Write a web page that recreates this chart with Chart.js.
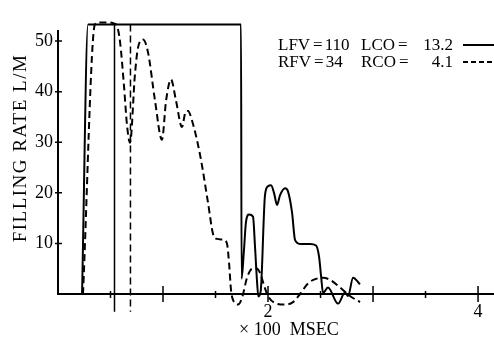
<!DOCTYPE html>
<html>
<head>
<meta charset="utf-8">
<script src="https://cdn.jsdelivr.net/npm/chart.js@4.4.0/dist/chart.umd.min.js"></script>
<style>
  body { margin: 0; background: #fff; }
</style>
</head>
<body>
<canvas id="fillChart" width="494" height="338"></canvas>
<script>
// left ventricle (solid) — x in 100 msec, y in L/M
const lvTime = [0.229, 0.286, 1.743, 1.748, 1.770, 1.790, 1.819, 1.857, 1.876, 1.895, 1.908, 1.930, 1.971, 2.0, 2.029, 2.057, 2.086, 2.114, 2.162, 2.19, 2.229, 2.257, 2.305, 2.4, 2.457, 2.486, 2.505, 2.524, 2.571, 2.667, 2.733, 2.762, 2.81, 2.876];
const lvRate = [0, 53.3, 53.3, 3.0, 8.4, 14.2, 15.7, 15.3, 9.4, 2.6, -0.5, 0.5, 19.5, 21.3, 21.5, 20.0, 17.6, 19.5, 20.9, 20.3, 16.1, 10.7, 9.9, 9.9, 9.6, 7.4, 3.6, 0.2, 1.3, -1.9, 0.3, -0.4, 3.2, 1.9];

// right ventricle (dashed)
const rvTime = [0.238, 0.352, 0.4, 0.457, 0.543, 0.562, 0.59, 0.629, 0.657, 0.686, 0.733, 0.762, 0.81, 0.857, 0.924, 0.99, 1.029, 1.076, 1.124, 1.181, 1.21, 1.238, 1.276, 1.352, 1.429, 1.476, 1.514, 1.581, 1.61, 1.629, 1.648, 1.676, 1.714, 1.752, 1.8, 1.848, 1.886, 1.924, 1.962, 2.0, 2.067, 2.162, 2.238, 2.305, 2.381, 2.457, 2.524, 2.59, 2.686, 2.781, 2.876];
const rvRate = [0, 53.3, 53.7, 53.7, 53.4, 53.0, 50.0, 41.0, 33.4, 29.9, 43.5, 48.7, 50.3, 47.8, 38.2, 30.5, 38.2, 42.4, 38.2, 33.0, 35.7, 36.2, 34.3, 27.6, 18.0, 11.9, 10.9, 10.7, 9.9, 6.1, 0.7, -1.6, -2.1, -0.8, 3.2, 5.0, 5.1, 4.2, 1.7, -0.4, -1.8, -2.1, -1.6, 0, 2.1, 3.0, 3.2, 2.8, 1.3, -0.4, -1.6];

// vertical timing markers
const lvMarkTime = [0.538, 0.538];
const rvMarkTime = [0.69, 0.69];
const markRate = [53.3, -3.5];

const yTickValues = [10, 20, 30, 40, 50];
const xTickValues = [0.5, 1, 1.5, 2, 2.5, 3, 3.5, 4];
const xTickLabels = [2, 4];
const yAxisTop = 52.2;

const legendRows = [
  ['LFV', '110', 'LCO', '13.2'],
  ['RFV', '34', 'RCO', '4.1']
];

const serif = '"Liberation Serif", "Times New Roman", serif';

const toPoints = (xs, ys) => xs.map((x, i) => ({ x: x, y: ys[i] }));

// axes cross their ticks and stop short, so draw them by hand from the scales
const axisPlugin = {
  id: 'axisCross',
  afterDraw(chart) {
    const { ctx, chartArea } = chart;
    const xs = chart.scales.x;
    const ys = chart.scales.y;
    const x0 = xs.getPixelForValue(0);
    const y0 = ys.getPixelForValue(0);
    ctx.save();
    ctx.strokeStyle = '#000';
    ctx.lineWidth = 2;
    ctx.beginPath();
    ctx.moveTo(x0, ys.getPixelForValue(yAxisTop));
    ctx.lineTo(x0, y0 + 1);
    ctx.moveTo(x0 - 1, y0);
    ctx.lineTo(chartArea.right, y0);
    ctx.stroke();

    ctx.lineWidth = 1.5;
    ctx.beginPath();
    yTickValues.forEach(v => {
      const p = ys.getPixelForValue(v);
      ctx.moveTo(x0 - 3, p);
      ctx.lineTo(x0 + 4, p);
    });
    xTickValues.forEach(v => {
      const p = xs.getPixelForValue(v);
      const big = Number.isInteger(v);
      ctx.moveTo(p, y0 - (big ? 8 : 3));
      ctx.lineTo(p, y0 + (big ? 8 : 4));
    });
    ctx.stroke();

    // legend block
    ctx.fillStyle = '#000';
    ctx.font = '17px ' + serif;
    ctx.textBaseline = 'alphabetic';
    legendRows.forEach((row, i) => {
      const by = 50 + i * 17;
      ctx.textAlign = 'left';
      let cx = 278;
      ctx.fillText(row[0], cx, by);
      cx += ctx.measureText(row[0]).width + 3;
      ctx.fillText('=', cx, by);
      cx += ctx.measureText('=').width + 2;
      ctx.fillText(row[1], cx, by);
      cx = 361;
      ctx.fillText(row[2], cx, by);
      cx += ctx.measureText(row[2]).width + 3;
      ctx.fillText('=', cx, by);
      ctx.textAlign = 'right';
      ctx.fillText(row[3], 453, by);
    });
    ctx.lineWidth = 2;
    ctx.beginPath();
    ctx.moveTo(463, 45);
    ctx.lineTo(494, 45);
    ctx.stroke();
    ctx.setLineDash([5, 3]);
    ctx.beginPath();
    ctx.moveTo(463, 62);
    ctx.lineTo(494, 62);
    ctx.stroke();
    ctx.setLineDash([]);

    // x axis title
    ctx.font = '18px ' + serif;
    ctx.textAlign = 'left';
    ctx.fillText('\u00d7 100  MSEC', 239, 335);

    // y axis title, letter-spaced like the original
    ctx.save();
    ctx.translate(21, 148);
    ctx.rotate(-Math.PI / 2);
    ctx.font = '19px ' + serif;
    if ('letterSpacing' in ctx) ctx.letterSpacing = '1.5px';
    ctx.textAlign = 'center';
    ctx.textBaseline = 'middle';
    ctx.fillText('FILLING RATE L/M', 0, 0);
    ctx.restore();

    ctx.restore();
  }
};

const ctx = document.getElementById('fillChart').getContext('2d');
new Chart(ctx, {
  type: 'line',
  data: {
    datasets: [
      {
        data: toPoints(lvTime, lvRate),
        borderColor: '#000',
        borderWidth: 2,
        pointRadius: 0,
        cubicInterpolationMode: 'monotone',
        clip: false
      },
      {
        data: toPoints(rvTime, rvRate),
        borderColor: '#000',
        borderWidth: 2,
        borderDash: [7, 4],
        pointRadius: 0,
        cubicInterpolationMode: 'monotone',
        clip: false
      },
      {
        data: toPoints(lvMarkTime, markRate),
        borderColor: '#000',
        borderWidth: 1.5,
        pointRadius: 0,
        tension: 0,
        clip: false
      },
      {
        data: toPoints(rvMarkTime, markRate),
        borderColor: '#000',
        borderWidth: 1.5,
        borderDash: [7, 4],
        pointRadius: 0,
        tension: 0,
        clip: false
      }
    ]
  },
  options: {
    responsive: false,
    devicePixelRatio: 1,
    animation: false,
    layout: { padding: { top: 7, left: 0, right: 0, bottom: 0 } },
    plugins: {
      legend: { display: false },
      tooltip: { enabled: false }
    },
    scales: {
      x: {
        type: 'linear',
        min: 0,
        max: 4.152,
        afterFit: scale => { scale.height = 44; },
        border: { display: false },
        grid: { display: false, drawTicks: false },
        ticks: {
          stepSize: 0.5,
          includeBounds: false,
          autoSkip: false,
          maxRotation: 0,
          padding: 7,
          color: '#000',
          font: { family: serif, size: 18 },
          callback: v => xTickLabels.includes(v) ? String(v) : ''
        }
      },
      y: {
        min: 0,
        max: 55,
        afterFit: scale => { scale.width = 58; },
        border: { display: false },
        grid: { display: false, drawTicks: false },
        ticks: {
          stepSize: 10,
          padding: 5,
          color: '#000',
          font: { family: serif, size: 18 },
          callback: v => yTickValues.includes(v) ? String(v) : ''
        }
      }
    }
  },
  plugins: [axisPlugin]
});
</script>
</body>
</html>
